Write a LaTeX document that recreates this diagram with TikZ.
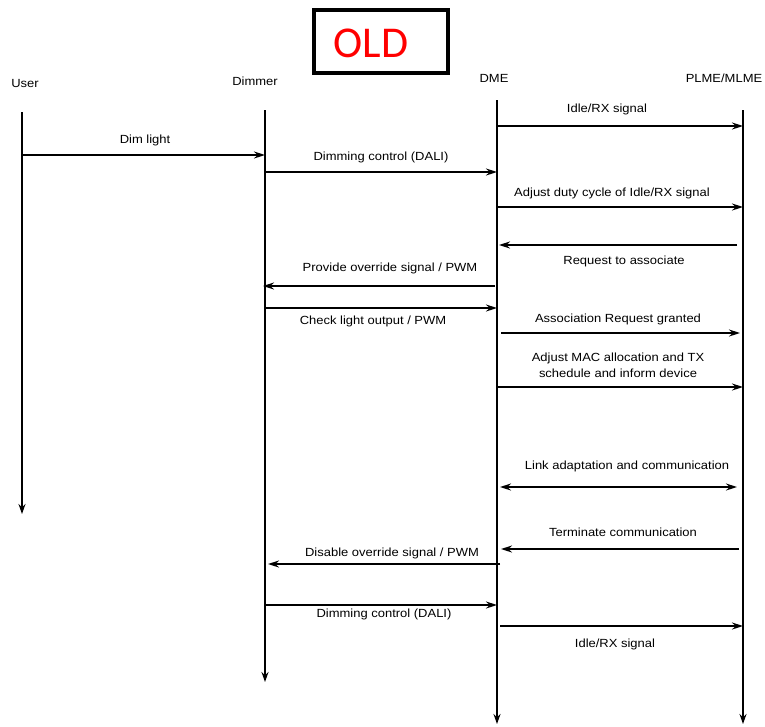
\documentclass[tikz,border=0pt]{standalone}
\usepackage{fontspec}
\setmainfont{Liberation Sans}[FakeStretch=1.1]
\newfontfamily\oldfont{Carlito}
\usetikzlibrary{arrows.meta}
\begin{document}
\begin{tikzpicture}[x=1pt,y=-1pt,
  life/.style={line width=1.5pt,-{Stealth[length=10pt,width=7pt]}},
  msg/.style={line width=1.5pt,-{Stealth[length=11pt,width=7pt]}},
  dmsg/.style={line width=1.5pt,{Stealth[length=11pt,width=7pt]}-{Stealth[length=11pt,width=7pt]}},
  lbl/.style={font=\fontsize{11.8}{16}\selectfont,inner sep=0pt,anchor=center},
  head/.style={font=\fontsize{11.8}{13.5}\selectfont,inner sep=0pt}]
\useasboundingbox (0,0) rectangle (765,726);
% OLD box
\node[draw,line width=4pt,minimum width=134pt,minimum height=63pt,inner sep=0pt] (old) at (381,41) {};
\node[text=red,inner sep=0pt,font=\oldfont\fontsize{44}{46}\selectfont] (oldtxt) at (371,43) {OLD};
% headers
\node[head] (huser) at (25,83) {User};
\node[head] (hdim) at (255,81) {Dimmer};
\node[head] (hdme) at (494,78) {DME};
\node[head] (hplme) at (724,78) {PLME/MLME};
% lifelines
\coordinate (userT) at (22,112); \coordinate (userB) at (22,514);
\coordinate (dimT) at (265,110); \coordinate (dimB) at (265,682);
\coordinate (dmeT) at (497,100); \coordinate (dmeB) at (497,724);
\coordinate (plmeT) at (743,110); \coordinate (plmeB) at (743,724);
\draw[life] (userT) -- (userB);
\draw[life] (dimT) -- (dimB);
\draw[life] (dmeT) -- (dmeB);
\draw[life] (plmeT) -- (plmeB);
% messages
\draw[msg] (dmeT |- 0,126) -- (plmeT |- 0,126);
\node[lbl] at (607,109) {Idle/RX signal};
\draw[msg] (userT |- 0,155) -- (dimT |- 0,155);
\node[lbl] at (145,140) {Dim light};
\draw[msg] (dimT |- 0,172) -- (dmeT |- 0,172);
\node[lbl] at (381,157) {Dimming control (DALI)};
\draw[msg] (dmeT |- 0,207) -- (plmeT |- 0,207);
\node[lbl] at (612,193) {Adjust duty cycle of Idle/RX signal};
\draw[msg] ([xshift=-6pt]plmeT |- 0,245) -- ([xshift=2pt]dmeT |- 0,245);
\node[lbl] at (624,261) {Request to associate};
\draw[msg] ([xshift=-2pt]dmeT |- 0,286) -- ([xshift=-2pt]dimT |- 0,286);
\node[lbl] at (390,268) {Provide override signal / PWM};
\draw[msg] (dimT |- 0,308) -- (dmeT |- 0,308);
\node[lbl] at (373,321) {Check light output / PWM};
\draw[msg] ([xshift=4pt]dmeT |- 0,333) -- ([xshift=-3pt]plmeT |- 0,333);
\node[lbl] at (618,319) {Association Request granted};
\draw[msg] (dmeT |- 0,387) -- (plmeT |- 0,387);
\node[lbl,align=center] at (618,365) {Adjust MAC allocation and TX\\schedule and inform device};
\draw[dmsg] ([xshift=3pt]dmeT |- 0,487) -- ([xshift=-6pt]plmeT |- 0,487);
\node[lbl] at (627,466) {Link adaptation and communication};
\draw[msg] ([xshift=-4pt]plmeT |- 0,549) -- ([xshift=4pt]dmeT |- 0,549);
\node[lbl] at (623,532) {Terminate communication};
\draw[msg] ([xshift=3pt]dmeT |- 0,564) -- ([xshift=3pt]dimT |- 0,564);
\node[lbl] at (392,553) {Disable override signal / PWM};
\draw[msg] (dimT |- 0,605) -- (dmeT |- 0,605);
\node[lbl] at (384,614) {Dimming control (DALI)};
\draw[msg] ([xshift=3pt]dmeT |- 0,626) -- (plmeT |- 0,626);
\node[lbl] at (615,644) {Idle/RX signal};
\end{tikzpicture}
\end{document}
